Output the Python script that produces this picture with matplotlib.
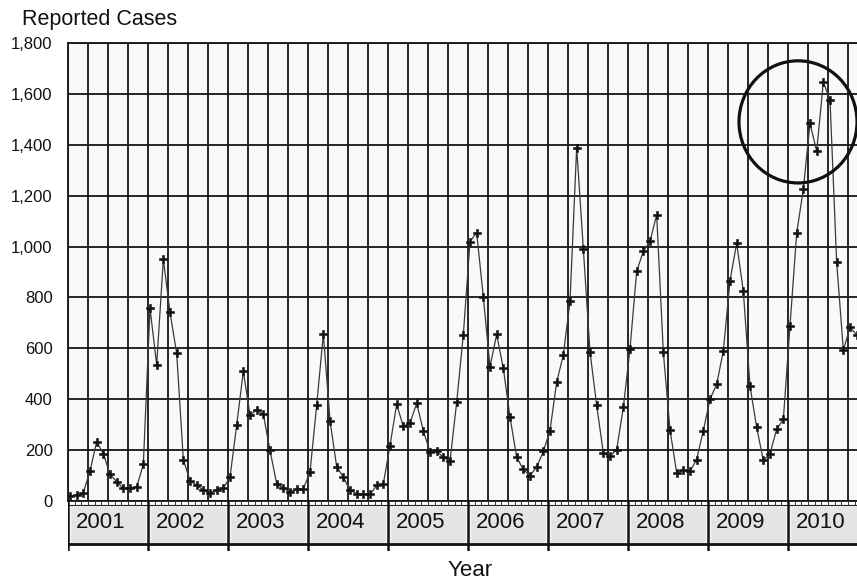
import matplotlib
matplotlib.use("Agg")
import matplotlib.pyplot as plt
from matplotlib.patches import Ellipse, Rectangle
import numpy as np

plt.rcParams['font.family'] = ['Liberation Sans', 'DejaVu Sans']

years = [2001, 2002, 2003, 2004, 2005, 2006, 2007, 2008, 2009, 2010]
cases_2001 = [20, 22, 33, 118, 233, 186, 105, 76, 50, 52, 55, 144]
cases_2002 = [758, 535, 950, 741, 581, 163, 80, 62, 43, 31, 45, 52]
cases_2003 = [93, 298, 510, 337, 359, 340, 199, 68, 50, 37, 46, 48]
cases_2004 = [114, 376, 656, 316, 135, 94, 42, 29, 26, 26, 61, 68]
cases_2005 = [218, 380, 293, 306, 384, 276, 193, 195, 172, 156, 388, 654]
cases_2006 = [1019, 1055, 801, 528, 655, 521, 330, 172, 124, 100, 133, 195]
cases_2007 = [277, 467, 574, 785, 1389, 991, 587, 376, 189, 176, 202, 368]
cases_2008 = [598, 903, 981, 1020, 1125, 584, 280, 111, 120, 117, 163, 277]
cases_2009 = [400, 459, 590, 866, 1013, 824, 452, 289, 160, 186, 282, 321]
cases_2010 = [689, 1052, 1226, 1485, 1374, 1646, 1577, 938, 593, 682, 653]
yticks = [0, 200, 400, 600, 800, 1000, 1200, 1400, 1600, 1800]

cases = (cases_2001 + cases_2002 + cases_2003 + cases_2004 + cases_2005 +
         cases_2006 + cases_2007 + cases_2008 + cases_2009 + cases_2010)
months = np.arange(len(cases)) + 0.3

W, H = 857, 583
fig = plt.figure(figsize=(W / 100, H / 100), dpi=100)

def rect(x0, y0, x1, y1):
    # pixel box (top-left origin) -> figure fraction
    return [x0 / W, 1 - y1 / H, (x1 - x0) / W, (y1 - y0) / H]

nmonths = 12 * len(years)
ax = fig.add_axes(rect(68, 43, 868, 501))
ax.set_facecolor('#f9f9f9')
ax.set_xlim(0, nmonths)
ax.set_ylim(0, 1800)
ax.set_xticks(np.arange(0, nmonths + 1, 3))
ax.set_yticks(yticks)
ax.set_yticklabels([f"{v:,}" for v in yticks], fontsize=12, color='#111111')
ax.tick_params(axis='x', length=0, labelbottom=False)
ax.tick_params(axis='y', length=0, pad=11)
ax.grid(True, color='#151515', linewidth=1.3)
ax.set_axisbelow(True)
for s in ax.spines.values():
    s.set_color('#151515')
    s.set_linewidth(1.3)

ax.plot(months, cases, color='#3a3a3a', linewidth=0.9,
        marker='P', markersize=5.5, markerfacecolor='#111111',
        markeredgecolor='#111111', markeredgewidth=0.4, zorder=3)

# highlight circle around the 2010 peak
ax.add_patch(Ellipse((109.5, 1490), width=17.7, height=480, fill=False,
                     edgecolor='#111111', linewidth=2.3, zorder=4, clip_on=False))

# year label strip
sx = fig.add_axes(rect(68, 501, 868, 551))
sx.set_xlim(0, nmonths)
sx.set_ylim(50, 0)
sx.axis('off')
sx.plot([0, nmonths], [3.5, 3.5], color='#222222', linewidth=0.8)
for m in range(nmonths + 1):
    sx.plot([m, m], [0, 3.5], color='#333333', linewidth=0.7)
for i, yr in enumerate(years):
    sx.add_patch(Rectangle((12 * i + 0.3, 5), 11.4, 36.5, facecolor='#e4e4e4',
                           edgecolor='#f4f4f4', linewidth=1.0))
    sx.text(12 * i + 1.2, 22, str(yr), fontsize=16, ha='left', va='center',
            color='#111111')
sx.plot([0, nmonths], [42.5, 42.5], color='#111111', linewidth=2.0)
for i in range(len(years) + 1):
    sx.plot([12 * i, 12 * i], [0, 49], color='#111111', linewidth=1.8)

fig.text(22 / W, 1 - 20 / H, 'Reported Cases', fontsize=15.5, ha='left',
         va='center', color='#111111')
fig.text(470 / W, 1 - 570 / H, 'Year', fontsize=16, ha='center',
         va='center', color='#111111')

fig.savefig('out.png', dpi=100, facecolor='white')
